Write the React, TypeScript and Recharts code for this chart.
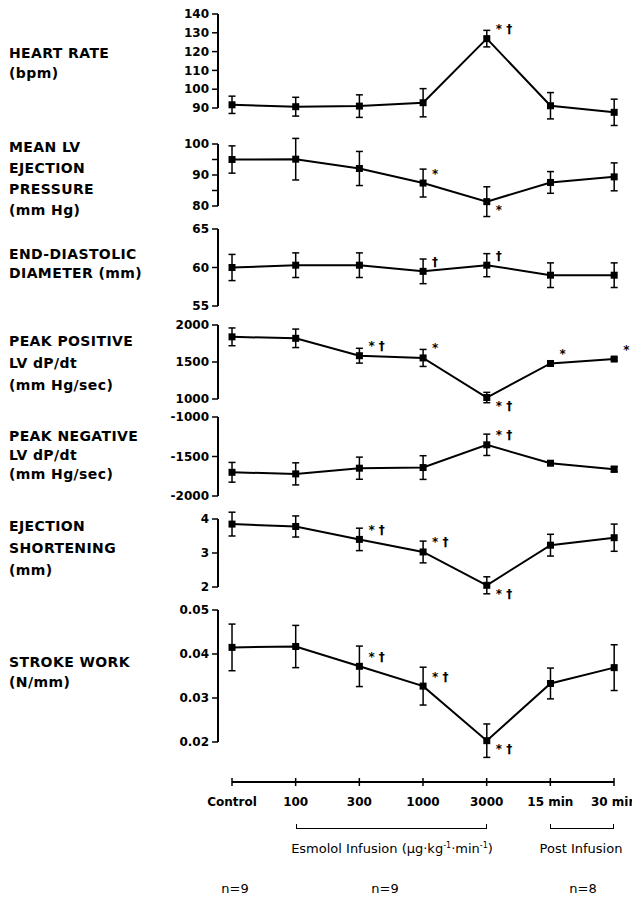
import React from 'react';
import { LineChart, Line, XAxis, YAxis, ErrorBar, ReferenceLine, LabelList } from 'recharts';

const timepoints = ['Control', '100', '300', '1000', '3000', '15 min', '30 min'];

// heart rate (bpm)
const heartRate = [91.7, 90.7, 91, 92.8, 126.9, 91.2, 87.7];
const heartRateErr = [4.6, 5, 6, 7.5, 4.4, 7, 7];
const heartRateUp = ['', '', '', '', '* †', '', ''];
const heartRateDown = ['', '', '', '', '', '', ''];

// mean LV ejection pressure (mm Hg)
const ejPressure = [95, 95.1, 92.1, 87.4, 81.4, 87.6, 89.4];
const ejPressureErr = [4.4, 6.7, 5.5, 4.5, 4.8, 3.5, 4.5];
const ejPressureUp = ['', '', '', '*', '', '', ''];
const ejPressureDown = ['', '', '', '', '*', '', ''];

// end-diastolic diameter (mm)
const edDiameter = [60.0, 60.3, 60.3, 59.5, 60.3, 59.0, 59.0];
const edDiameterErr = [1.7, 1.6, 1.6, 1.6, 1.5, 1.6, 1.6];
const edDiameterUp = ['', '', '', '†', '†', '', ''];
const edDiameterDown = ['', '', '', '', '', '', ''];

// peak positive LV dP/dt (mm Hg/sec)
const posDpdt = [1840, 1820, 1585, 1555, 1020, 1480, 1540];
const posDpdtErr = [120, 125, 100, 115, 70, 20, 20];
const posDpdtUp = ['', '', '* †', '*', '', '*', '*'];
const posDpdtDown = ['', '', '', '', '* †', '', ''];

// peak negative LV dP/dt (mm Hg/sec)
const negDpdt = [-1700, -1720, -1648, -1640, -1352, -1585, -1661];
const negDpdtErr = [125, 140, 140, 150, 135, 12, 35];
const negDpdtUp = ['', '', '', '', '* †', '', ''];
const negDpdtDown = ['', '', '', '', '', '', ''];

// ejection shortening (mm)
const shortening = [3.85, 3.78, 3.4, 3.03, 2.05, 3.23, 3.45];
const shorteningErr = [0.35, 0.31, 0.33, 0.32, 0.25, 0.32, 0.4];
const shorteningUp = ['', '', '* †', '* †', '', '', ''];
const shorteningDown = ['', '', '', '', '* †', '', ''];

// stroke work (N/mm)
const strokeWork = [0.0415, 0.0417, 0.0372, 0.0327, 0.0203, 0.0333, 0.0369];
const strokeWorkErr = [0.0053, 0.0048, 0.0046, 0.0043, 0.0038, 0.0035, 0.0052];
const strokeWorkUp = ['', '', '* †', '* †', '', '', ''];
const strokeWorkDown = ['', '', '', '', '* †', '', ''];

const FONT = "'DejaVu Sans', sans-serif";
const PLOT_LEFT = 218;
const RIGHT = 14;
const X_DOMAIN: [number, number] = [-0.22, 6.06];
const PAD = 30;

const panels = [
  { label: ['HEART RATE', '(bpm)'], labelTop: 43, lh: 20, values: heartRate, err: heartRateErr, up: heartRateUp, down: heartRateDown, ticks: [90, 100, 110, 120, 130, 140], topPx: 14, bottomPx: 108 },
  { label: ['MEAN LV', 'EJECTION', 'PRESSURE', '(mm Hg)'], labelTop: 137, lh: 21, values: ejPressure, err: ejPressureErr, up: ejPressureUp, down: ejPressureDown, ticks: [80, 85, 90, 95, 100], shown: [80, 90, 100], topPx: 144, bottomPx: 206 },
  { label: ['END-DIASTOLIC', 'DIAMETER (mm)'], labelTop: 245, lh: 19, values: edDiameter, err: edDiameterErr, up: edDiameterUp, down: edDiameterDown, ticks: [55, 60, 65], topPx: 229, bottomPx: 306 },
  { label: ['PEAK POSITIVE', 'LV dP/dt', '(mm Hg/sec)'], labelTop: 330, lh: 22, values: posDpdt, err: posDpdtErr, up: posDpdtUp, down: posDpdtDown, ticks: [1000, 1500, 2000], topPx: 325, bottomPx: 399 },
  { label: ['PEAK NEGATIVE', 'LV dP/dt', '(mm Hg/sec)'], labelTop: 427, lh: 19, values: negDpdt, err: negDpdtErr, up: negDpdtUp, down: negDpdtDown, ticks: [-2000, -1500, -1000], topPx: 417, bottomPx: 496 },
  { label: ['EJECTION', 'SHORTENING', '(mm)'], labelTop: 515, lh: 22, values: shortening, err: shorteningErr, up: shorteningUp, down: shorteningDown, ticks: [2, 3, 4], topPx: 519, bottomPx: 587 },
  { label: ['STROKE WORK', '(N/mm)'], labelTop: 652, lh: 20, values: strokeWork, err: strokeWorkErr, up: strokeWorkUp, down: strokeWorkDown, ticks: [0.02, 0.03, 0.04, 0.05], topPx: 610, bottomPx: 742, fixed: 2 },
];

const note = (dy: number) => (props: any) => {
  const { x, y, value, index } = props;
  if (!value) return null;
  return (
    <text key={index} x={x + 9} y={y + dy} dominantBaseline="middle" fontSize={12} fontWeight="bold" fontFamily={FONT} fill="#000">
      {value}
    </text>
  );
};

const squareDot = (p: any) => (
  <rect key={p.index} x={p.cx - 3.5} y={p.cy - 3.5} width={7} height={7} fill="#000" />
);

function Panel({ cfg }: { cfg: any }) {
  const lo = cfg.ticks[0];
  const hi = cfg.ticks[cfg.ticks.length - 1];
  const pxPerUnit = (cfg.bottomPx - cfg.topPx) / (hi - lo);
  const domain = [lo - PAD / pxPerUnit, hi + PAD / pxPerUnit];
  const height = cfg.bottomPx - cfg.topPx + 2 * PAD;
  const data = timepoints.map((t, i) => ({
    x: i, name: t, v: cfg.values[i], e: cfg.err[i], up: cfg.up[i], down: cfg.down[i],
  }));
  const fmt = (v: number) => {
    if (cfg.shown && !cfg.shown.includes(v)) return '';
    return cfg.fixed ? v.toFixed(cfg.fixed) : String(v);
  };
  return (
    <>
      <div style={{ position: 'absolute', left: 9, top: cfg.labelTop, fontFamily: FONT, fontWeight: 'bold', fontSize: 14, lineHeight: cfg.lh + 'px', letterSpacing: 0.4, whiteSpace: 'pre' }}>
        {cfg.label.join('\n')}
      </div>
      <div style={{ position: 'absolute', left: 0, top: cfg.topPx - PAD }}>
        <LineChart width={632} height={height} data={data} margin={{ top: 0, right: RIGHT, bottom: 0, left: 0 }}>
          <XAxis type="number" dataKey="x" domain={X_DOMAIN} hide />
          <YAxis
            type="number"
            domain={domain}
            ticks={cfg.ticks}
            interval={0}
            width={PLOT_LEFT}
            axisLine={false}
            tickLine={{ stroke: '#000', strokeWidth: 1.5 }}
            tickSize={6}
            tickMargin={3}
            tickFormatter={fmt}
            tick={{ fill: '#000', fontSize: 12, fontWeight: 'bold', fontFamily: FONT }}
          />
          <ReferenceLine
            segment={[{ x: X_DOMAIN[0], y: lo }, { x: X_DOMAIN[0], y: hi }]}
            stroke="#000"
            strokeWidth={2}
            ifOverflow="visible"
          />
          <Line type="linear" dataKey="v" stroke="#000" strokeWidth={2} dot={squareDot} isAnimationActive={false}>
            <ErrorBar dataKey="e" direction="y" width={3.5} stroke="#000" strokeWidth={1.5} isAnimationActive={false} />
            <LabelList dataKey="up" content={note(-9)} />
            <LabelList dataKey="down" content={note(9)} />
          </Line>
        </LineChart>
      </div>
    </>
  );
}

const AxisTick = (props: any) => {
  const { x, y, payload } = props;
  return (
    <g>
      <line x1={x} x2={x} y1={y - 4} y2={y + 4} stroke="#000" strokeWidth={1.5} />
      <text x={x} y={y + 24} textAnchor="middle" fontSize={12} fontWeight="bold" fontFamily={FONT} fill="#000">
        {timepoints[payload.value]}
      </text>
    </g>
  );
};

const xOf = (i: number) => 232 + i * ((614 - 232) / 6);

export default function App() {
  const axisData = timepoints.map((t, i) => ({ x: i, name: t }));
  const small: React.CSSProperties = { position: 'absolute', fontFamily: FONT, fontSize: 13, transform: 'translateX(-50%)', whiteSpace: 'nowrap' };
  return (
    <div style={{ position: 'absolute', left: 0, top: 0, width: 632, height: 900, background: '#fff', overflow: 'hidden' }}>
      {panels.map((p, i) => <Panel key={i} cfg={p} />)}
      <div style={{ position: 'absolute', left: 0, top: 762 }}>
        <LineChart width={632} height={138} data={axisData} margin={{ top: 20, right: 632 - 614, bottom: 0, left: 232 }}>
          <XAxis
            type="number"
            dataKey="x"
            domain={[0, 6]}
            ticks={[0, 1, 2, 3, 4, 5, 6]}
            interval={0}
            height={118}
            axisLine={{ stroke: '#000', strokeWidth: 2 }}
            tickLine={false}
            tickSize={0}
            tickMargin={0}
            tick={<AxisTick />}
          />
          <YAxis hide domain={[0, 1]} />
        </LineChart>
      </div>
      <div style={{ position: 'absolute', left: xOf(1), top: 824, width: xOf(4) - xOf(1), height: 5, borderLeft: '1.5px solid #000', borderRight: '1.5px solid #000', borderBottom: '1.5px solid #000', boxSizing: 'border-box' }} />
      <div style={{ position: 'absolute', left: xOf(5), top: 824, width: xOf(6) - xOf(5), height: 5, borderLeft: '1.5px solid #000', borderRight: '1.5px solid #000', borderBottom: '1.5px solid #000', boxSizing: 'border-box' }} />
      <div style={{ ...small, left: 392, top: 841 }}>
        Esmolol Infusion (μg·kg<sup style={{ fontSize: 8 }}>-1</sup>·min<sup style={{ fontSize: 8 }}>-1</sup>)
      </div>
      <div style={{ ...small, left: 581, top: 841 }}>Post Infusion</div>
      <div style={{ ...small, left: 235, top: 881 }}>n=9</div>
      <div style={{ ...small, left: 385, top: 881 }}>n=9</div>
      <div style={{ ...small, left: 583, top: 881 }}>n=8</div>
    </div>
  );
}
